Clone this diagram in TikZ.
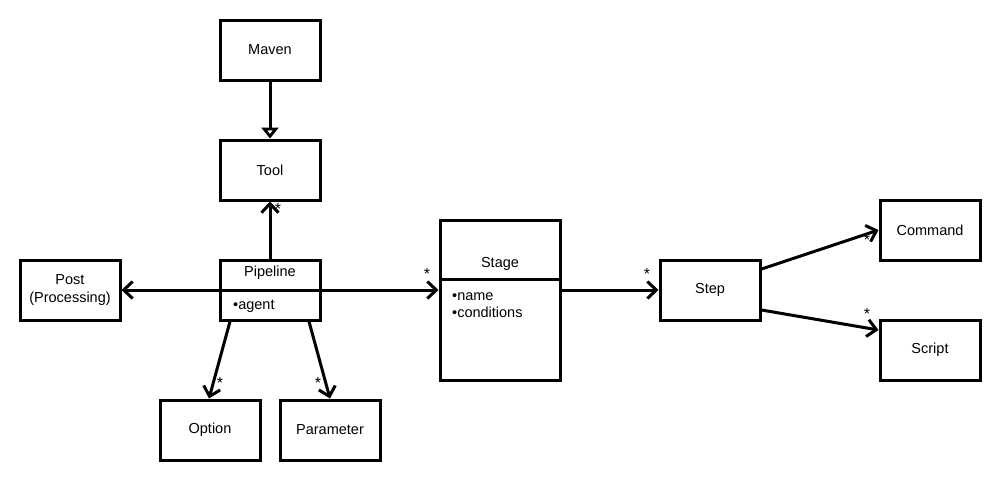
\documentclass[tikz,border=0pt]{standalone}
\usepackage{fontspec}
\setmainfont{Liberation Sans}
\usepackage{tikz}
\usetikzlibrary{arrows.meta,positioning}
\tikzset{>={Straight Barb[length=9pt,width=17pt]}}
\tikzset{
    box/.style={draw,line width=3pt,minimum width=100pt,minimum height=60pt,inner sep=0pt,align=center,font=\fontsize{14.5}{17.5}\selectfont},
    txt/.style={inner sep=0pt,font=\fontsize{14.5}{17.5}\selectfont},
    mult/.style={inner sep=0pt,font=\fontsize{16}{16}\selectfont},
    link/.style={line width=3pt,->},
}

\begin{document}
\begin{tikzpicture}[x=1pt,y=-1pt]
                \useasboundingbox (0,0) rectangle (1000,480);
                \node[box] (maven) at (270,50) {Maven};
                \node[box] (tool) at (270,170) {Tool};
                \node[box] (pipe) at (270,290) {};
                \node[box] (post) at (70,290) {Post\\(Processing)};
                \node[box,minimum width=120pt,minimum height=160pt] (stage) at (500,300) {};
                \node[box] (step) at (710,290) {Step};
                \node[box] (command) at (930,230) {Command};
                \node[box] (script) at (930,350) {Script};
                \node[box] (option) at (210,430) {Option};
                \node[box] (param) at (330,430) {Parameter};
                \node[txt,anchor=base] (pipename) at (270,276.5) {Pipeline};
                \node[txt,anchor=base west] (pipeattr) at (233,309) {\textbullet agent};
                \node[txt,anchor=base] (stagename) at (500,267.5) {Stage};
                \node[txt,anchor=base west] (stagename2) at (452,300.5) {\textbullet name};
                \node[txt,anchor=base west] (stagecond) at (452,317.5) {\textbullet conditions};
                \draw[line width=3pt] (pipe.west) -- (pipe.east);
                \draw[line width=3pt] ([yshift=-61pt]stage.north west) -- ([yshift=-61pt]stage.north east);
                \draw[line width=3pt,-{Triangle[open,length=11pt,width=17pt]}] (maven) -- (tool);
                \draw[link] (pipe) -- (tool);
                \draw[link] (pipe.west) -- (post);
                \draw[link] (pipe.east) -- (pipe.east -| stage.west);
                \draw[link] (stage.east |- step) -- (step);
                \draw[link] ([yshift=21pt]step.east) -- (command.west);
                \draw[link] ([yshift=-20pt]step.east) -- ([yshift=20pt]script.west);
                \draw[link] ([xshift=-40pt]pipe.south) -- ([xshift=-1pt]option.north);
                \draw[link] ([xshift=39pt]pipe.south) -- (param.north);
                \node[mult] (mtool) at (278,209) {*};
                \node[mult] (mstage) at (427,274) {*};
                \node[mult] (mstep) at (647,274) {*};
                \node[mult] (mcommand) at (867,240) {*};
                \node[mult] (mscript) at (867,314) {*};
                \node[mult] (moption) at (220,383) {*};
                \node[mult] (mparam) at (318,383) {*};
            \end{tikzpicture}
\end{document}
